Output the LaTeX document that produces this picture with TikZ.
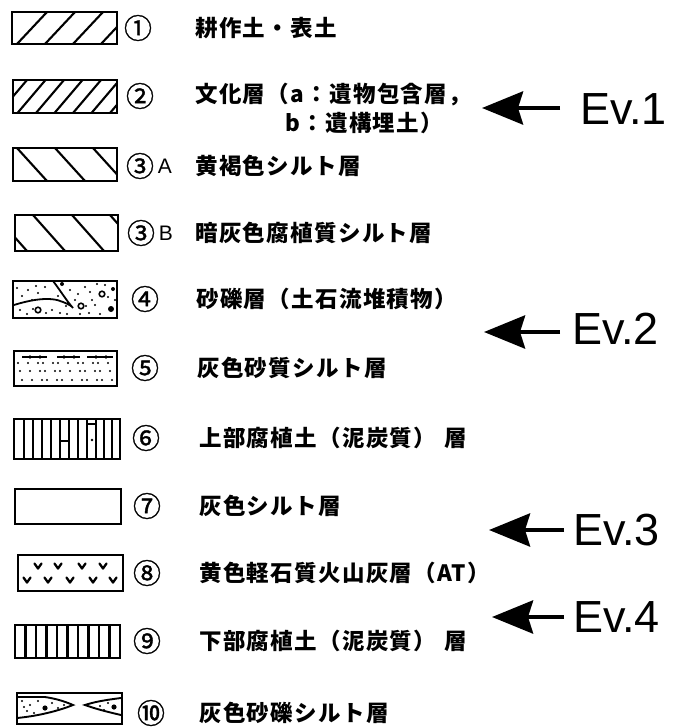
\documentclass[tikz,border=0pt]{standalone}
\usepackage{fontspec}
\setmainfont{Liberation Sans}
\newfontfamily\jp[LetterSpace=6]{Noto Sans CJK JP}
\newfontfamily\jpn[FakeBold=1.3]{Noto Sans CJK JP}
\usetikzlibrary{arrows.meta}
\tikzset{
  swatch/.style={draw, line width=2.4pt},
  hatch/.style={line width=2.1pt},
  jtext/.style={anchor=west, inner sep=0pt, font=\jp\bfseries\fontsize{22.5}{25}\selectfont},
  circnum/.style={anchor=center, inner sep=0pt, font=\jpn\fontsize{28}{30}\selectfont},
  latin/.style={anchor=center, inner sep=0pt, font=\fontsize{21}{22}\selectfont},
  evlab/.style={anchor=west, inner sep=0pt, font=\fontsize{45}{50}\selectfont},
  evarrow/.style={line width=4.5pt, -{Stealth[length=41pt,width=33pt,inset=5pt]}},
  vmark/.style={line width=2.3pt, line cap=round, line join=round},
}
\begin{document}
\begin{tikzpicture}[x=1pt,y=-1pt]
\useasboundingbox (0,0) rectangle (683,728);

% ---------- Box 1 ----------
\begin{scope}
  \clip (12,12) rectangle (117,44);
  \foreach \x in {17,45,73,101} \draw[hatch] (\x,44) -- ++(30,-32);
\end{scope}
\draw[swatch] (12,12) rectangle (117,44);

% ---------- Box 2 ----------
\begin{scope}
  \clip (13,80) rectangle (117,113);
  \foreach \x in {-1,17.5,36,54.5,73,91.5,110} \draw[hatch] (\x,113) -- ++(28,-33);
\end{scope}
\draw[swatch] (13,80) rectangle (117,113);

% ---------- Box 3A ----------
\begin{scope}
  \clip (13,148) rectangle (117,181);
  \foreach \x in {-21,17,55,93} \draw[hatch] (\x,148) -- ++(30,33);
\end{scope}
\draw[swatch] (13,148) rectangle (117,181);

% ---------- Box 3B ----------
\begin{scope}
  \clip (15,215) rectangle (118,251);
  \foreach \x in {-5,33,72,110} \draw[hatch] (\x,215) -- ++(32,36);
\end{scope}
\draw[swatch] (15,215) rectangle (118,251);

% ---------- Box 4 ----------
\draw[line width=1.8pt] (14,305) .. controls (30,300) and (50,296) .. (63,302)
   .. controls (68,304) and (72,306) .. (73,308)
   .. controls (66,300) and (60,290) .. (53,281);
\foreach \p in {(20,310),(27,314),(33,309),(46,313),(52,310),(60,313),(67,314),
  (28,290),(38,293),(45,287),(22,296),(70,290),(78,294),(85,287),(92,300),
  (75,300),(89,313),(95,305),(100,314),(108,297),(105,285),(80,314),(90,292),(97,284),(115,300),
  (58,296),(66,306),(32,300),(17,288),(36,286),(86,306)}
  \fill \p circle (1.2pt);
\fill (62,284) circle (2pt);
\fill (113,289) circle (2pt);
\draw[line width=1.6pt] (38,310) circle (2.8pt);
\draw[line width=1.6pt] (81,306) circle (2.8pt);
\draw[line width=1.6pt] (102,294) circle (2.8pt);
\fill (111,309) circle (3pt);
\draw[swatch] (13,281) rectangle (117,318);

% ---------- Box 5 ----------
\foreach \a/\b in {22/47,57/80,87/113} \draw[line width=2pt] (\a,357) -- (\b,357);
\foreach \x in {30,40,64,74,96,106} \fill (\x,357) circle (1.8pt);
\foreach \i in {0,...,11} {
  \foreach \r/\yy in {0/364,1/371,2/379} {
    \pgfmathsetmacro{\xx}{20+8*\i+mod(\i*7+\r*5,5)-2+\r*2}
    \pgfmathsetmacro{\yj}{\yy+mod(\i*3+\r,3)-1}
    \fill (\xx,\yj) circle (1.15pt);
  }
}
\draw[swatch] (14,351) rectangle (117,386);

% ---------- Box 6 ----------
\foreach \x in {24,33,42,51,60,69,78,87,96,104,112}
  \draw[hatch] (\x,419) -- (\x,459);
\draw[hatch] (60,441) -- (69,441);
\draw[hatch] (87,424) -- (96,424);
\fill (92,440) circle (1.3pt);
\draw[swatch] (14,419) rectangle (120,459);

% ---------- Box 7 ----------
\draw[swatch] (15,489) rectangle (121,524);

% ---------- Box 8 ----------
\foreach \x in {38,58,82,103} \draw[vmark] (\x-3.5,563.5) -- (\x,568.5) -- (\x+3.5,563.5);
\foreach \x in {27,48,70,93,113} \draw[vmark] (\x-3.5,577.5) -- (\x,582.5) -- (\x+3.5,577.5);
\draw[swatch] (18,555) rectangle (123,591);

% ---------- Box 9 ----------
\foreach \x in {25.5,36,46.5,57,67.5,78,88.5,99,109.5}
  \draw[hatch] (\x,625) -- (\x,658);
\draw[swatch] (15,625) rectangle (120,658);

% ---------- Box 10 ----------
\draw[line width=1.9pt] (17,697) -- (45,697) .. controls (58,699) and (66,702) .. (73,705)
   .. controls (58,711) and (38,716) .. (17,718);
\draw[line width=1.9pt] (121,698) .. controls (105,700) and (94,702) .. (85,705)
   .. controls (96,709) and (108,712) .. (121,715);
\foreach \p in {(22,701),(30,705),(38,701),(27,711),(52,703),(58,708),(34,713),(24,707),(64,705),(100,706),(108,703),(104,710)}
  \fill \p circle (1.2pt);
\fill (45,708) circle (2.6pt);
\fill (114,707) circle (2.6pt);
\draw[swatch] (17,693) rectangle (122,724);

% ---------- Numbers ----------
\node[circnum] (n1) at (138,28) {①};
\node[circnum] (n2) at (140,96) {②};
\node[circnum] (n3a) at (140,166) {③};
\node[latin] (la) at (165,166) {A};
\node[circnum] (n3b) at (141,233) {③};
\node[latin] (lb) at (166,233) {B};
\node[circnum] (n4) at (145,299) {④};
\node[circnum] (n5) at (145,368) {⑤};
\node[circnum] (n6) at (146,438) {⑥};
\node[circnum] (n7) at (147,506) {⑦};
\node[circnum] (n8) at (147,573) {⑧};
\node[circnum] (n9) at (147,641) {⑨};
\node[circnum] (n10) at (151,713) {⑩};

% ---------- Texts ----------
\node[jtext] (t1) at (195,28) {耕作土・表土};
\node[jtext] (t2a) at (195,95) {文化層（a：遺物包含層，};
\node[jtext] (t2b) at (285,123) {b：遺構埋土）};
\node[jtext] (t3a) at (195,166) {黄褐色シルト層};
\node[jtext] (t3b) at (195,233) {暗灰色腐植質シルト層};
\node[jtext] (t4) at (196,299) {砂礫層（土石流堆積物）};
\node[jtext] (t5) at (197,368) {灰色砂質シルト層};
\node[jtext] (t6) at (199,438) {上部腐植土（泥炭質）\hspace{8pt}層};
\node[jtext] (t7) at (199,506) {灰色シルト層};
\node[jtext] (t8) at (199,573) {黄色軽石質火山灰層（AT）};
\node[jtext] (t9) at (199,641) {下部腐植土（泥炭質）\hspace{8pt}層};
\node[jtext] (t10) at (199,713) {灰色砂礫シルト層};

% ---------- Events ----------
\node[evlab] (ev1) at (580,109) {Ev.1};
\node[evlab] (ev2) at (572,329) {Ev.2};
\node[evlab] (ev3) at (573,530) {Ev.3};
\node[evlab] (ev4) at (573,617) {Ev.4};
\coordinate (tip1) at (482,108);
\coordinate (tip2) at (484,332);
\coordinate (tip3) at (489,530);
\coordinate (tip4) at (492,617);
\draw[evarrow, shorten <=20pt] (ev1.west |- tip1) -- (tip1);
\draw[evarrow, shorten <=12pt] (ev2.west |- tip2) -- (tip2);
\draw[evarrow, shorten <=9pt] (ev3.west |- tip3) -- (tip3);
\draw[evarrow, shorten <=9pt] (ev4.west |- tip4) -- (tip4);
\end{tikzpicture}
\end{document}
